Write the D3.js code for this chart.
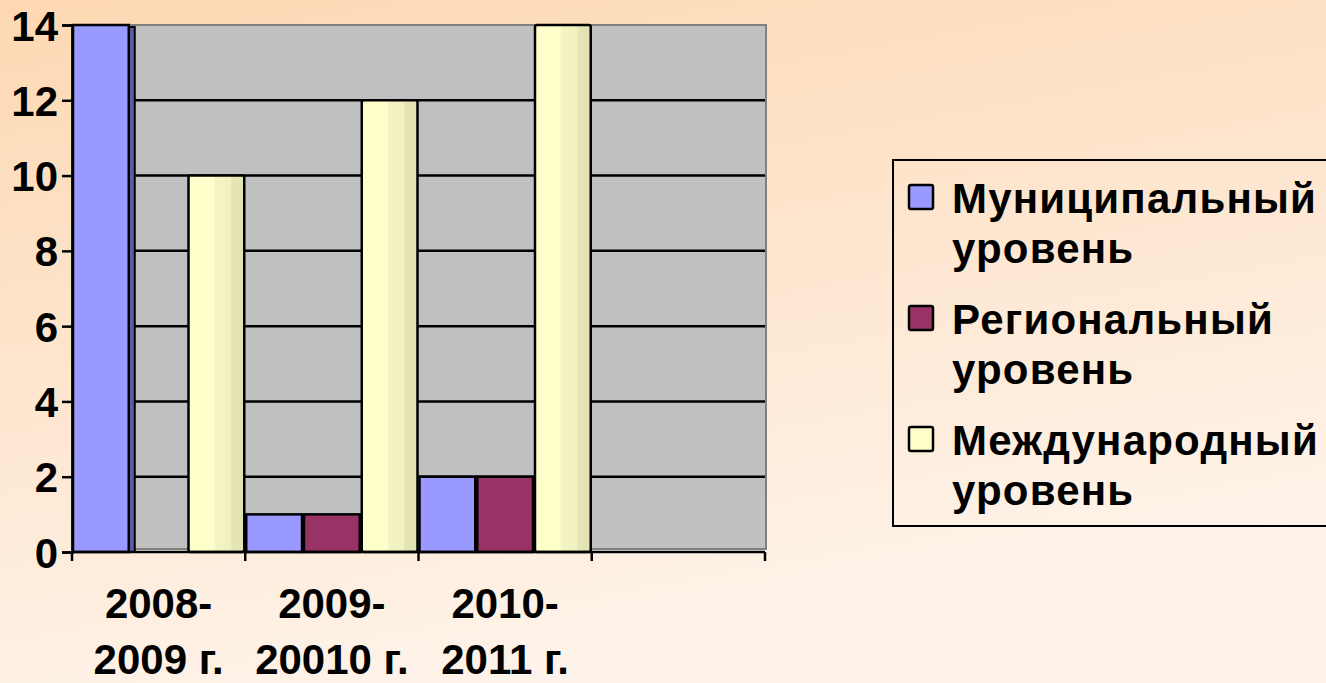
<!DOCTYPE html>
<html>
<head>
<meta charset="utf-8">
<script src="https://cdn.jsdelivr.net/npm/d3@7"></script>
<style>
  html, body { margin: 0; padding: 0; }
  body { width: 1326px; height: 683px; overflow: hidden; }
  text { font-family: "Liberation Sans", Arial, sans-serif; font-weight: bold; fill: #000; }
</style>
</head>
<body>
<svg id="chart"></svg>
<script>
// chart data
var categories = [['2008-', '2009 г.'], ['2009-', '20010 г.'], ['2010-', '2011 г.'], ['', '']];
var seriesNames = [['Муниципальный', 'уровень'], ['Региональный', 'уровень'], ['Международный', 'уровень']];
var municipal = [14, 1, 2];
var regional = [0, 1, 2];
var international = [10, 12, 14];
var yTicks = [0, 2, 4, 6, 8, 10, 12, 14];

var seriesValues = [municipal, regional, international];
var seriesColors = ['#9999ff', '#993366', '#ffffcc'];
var sideColors = ['#5c5ca8', '#5e1f3e', null];

var canvasWidth = 1326;
var canvasHeight = 683;
var plot = { left: 72, right: 765, top: 25, bottom: 552 };

var svg = d3.select('#chart')
    .attr('width', canvasWidth)
    .attr('height', canvasHeight);

var defs = svg.append('defs');
var bg = defs.append('linearGradient')
    .attr('id', 'bg')
    .attr('x1', 0).attr('y1', 0).attr('x2', 0.35).attr('y2', 1);
bg.append('stop').attr('offset', '0%').attr('stop-color', '#fdd8b2');
bg.append('stop').attr('offset', '100%').attr('stop-color', '#fef3ea');

// shading for the yellow "cylinder" bars
var yel = defs.append('linearGradient').attr('id', 'yel').attr('x1', 0).attr('x2', 1).attr('y1', 0).attr('y2', 0);
yel.append('stop').attr('offset', '0%').attr('stop-color', '#ffffcc');
yel.append('stop').attr('offset', '45%').attr('stop-color', '#ffffcc');
yel.append('stop').attr('offset', '48%').attr('stop-color', '#f4f4c4');
yel.append('stop').attr('offset', '75%').attr('stop-color', '#f0f0c0');
yel.append('stop').attr('offset', '78%').attr('stop-color', '#e4e4b4');
yel.append('stop').attr('offset', '100%').attr('stop-color', '#e2e2b2');

svg.append('rect')
    .attr('width', canvasWidth)
    .attr('height', canvasHeight)
    .attr('fill', 'url(#bg)');

var x = d3.scaleBand()
    .domain(d3.range(categories.length))
    .range([plot.left, plot.right])
    .padding(0);

var xSub = d3.scaleBand()
    .domain(d3.range(seriesValues.length))
    .range([0, x.bandwidth()])
    .padding(0);

var y = d3.scaleLinear()
    .domain([0, 14])
    .range([plot.bottom, plot.top]);

// back wall
svg.append('rect')
    .attr('x', plot.left)
    .attr('y', plot.top)
    .attr('width', plot.right - plot.left + 1)
    .attr('height', plot.bottom - plot.top - 3)
    .attr('fill', '#c0c0c0')
    .attr('stroke', '#808080')
    .attr('stroke-width', 2);

// gridlines
svg.append('g')
    .selectAll('line')
    .data(yTicks.filter(function(d){ return d > 0 && d < 14; }))
    .enter()
    .append('line')
    .attr('x1', plot.left)
    .attr('x2', plot.right)
    .attr('y1', function(d){ return y(d); })
    .attr('y2', function(d){ return y(d); })
    .attr('stroke', '#000')
    .attr('stroke-width', 2.5);

// bars, drawn left to right so the next bar hides the side face of the previous one
var bars = [];
categories.forEach(function(c, ci){
    seriesValues.forEach(function(vals, si){
        if (vals[ci] === undefined) return;
        bars.push({ cat: ci, s: si, v: vals[ci] });
    });
});

var barG = svg.append('g');
bars.forEach(function(d){
    var bx = x(d.cat) + xSub(d.s);
    var bw = xSub.bandwidth();
    var top = y(d.v);
    // side face
    if (d.v > 0 && sideColors[d.s]) {
        barG.append('rect')
            .attr('x', bx + bw - 1)
            .attr('y', top + 2)
            .attr('width', 6)
            .attr('height', plot.bottom - top - 2)
            .attr('fill', sideColors[d.s])
            .attr('stroke', '#000')
            .attr('stroke-width', 2);
    }
    barG.append('rect')
        .attr('x', bx + 1)
        .attr('y', top)
        .attr('width', bw - 2)
        .attr('height', plot.bottom - top)
        .attr('rx', d.s === 2 ? 2 : 0)
        .attr('fill', d.s === 2 ? 'url(#yel)' : seriesColors[d.s])
        .attr('stroke', '#000')
        .attr('stroke-width', 2.5);
});

// y axis
var yAxis = svg.append('g')
    .attr('transform', 'translate(' + plot.left + ',0)')
    .call(d3.axisLeft(y).tickValues(yTicks).tickSize(10).tickPadding(4).tickFormat(d3.format('d')));
yAxis.select('.domain').attr('stroke', '#000').attr('stroke-width', 2.5);
yAxis.selectAll('.tick line').attr('stroke', '#000').attr('stroke-width', 2.5);
yAxis.selectAll('.tick text')
    .attr('font-size', 42)
    .attr('font-family', '"Liberation Sans", Arial, sans-serif')
    .attr('font-weight', 'bold')
    .attr('dy', '0.36em');

// floor line and category boundary ticks
svg.append('line')
    .attr('x1', plot.left).attr('x2', plot.right)
    .attr('y1', plot.bottom).attr('y2', plot.bottom)
    .attr('stroke', '#000').attr('stroke-width', 2.5);
var bounds = d3.range(categories.length + 1).map(function(i){ return plot.left + i * x.step(); });
svg.append('g')
    .selectAll('line')
    .data(bounds)
    .enter()
    .append('line')
    .attr('x1', function(d){ return d; })
    .attr('x2', function(d){ return d; })
    .attr('y1', plot.bottom)
    .attr('y2', plot.bottom + 9)
    .attr('stroke', '#000')
    .attr('stroke-width', 2.5);

// category labels
var catLabels = svg.append('g')
    .selectAll('text')
    .data(categories)
    .enter()
    .append('text')
    .attr('text-anchor', 'middle')
    .attr('font-size', 42);
catLabels.each(function(d, i){
    var t = d3.select(this);
    var cx = x(i) + x.bandwidth() / 2;
    t.append('tspan').attr('x', cx).attr('y', 618).text(d[0]);
    t.append('tspan').attr('x', cx).attr('y', 674).text(d[1]);
});

// legend
var legend = svg.append('g');
legend.append('rect')
    .attr('x', 893)
    .attr('y', 160)
    .attr('width', 450)
    .attr('height', 366)
    .attr('fill', 'none')
    .attr('stroke', '#000')
    .attr('stroke-width', 2);

seriesNames.forEach(function(name, i){
    var base = 213 + i * 121;
    legend.append('rect')
        .attr('x', 909)
        .attr('y', base - 28)
        .attr('width', 24)
        .attr('height', 24)
        .attr('fill', seriesColors[i])
        .attr('stroke', '#000')
        .attr('stroke-width', 2.5)
        .attr('rx', 2);
    var t = legend.append('text').attr('font-size', 42).attr('letter-spacing', 1.2);
    t.append('tspan').attr('x', 952).attr('y', base).text(name[0]);
    t.append('tspan').attr('x', 952).attr('y', base + 50).text(name[1]);
});
</script>
</body>
</html>
